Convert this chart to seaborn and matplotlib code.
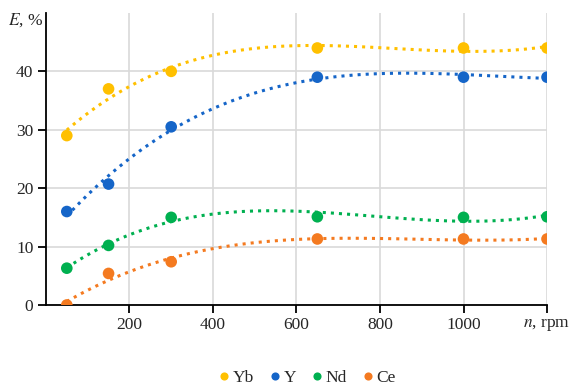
import numpy as np
import pandas as pd
import seaborn as sns
import matplotlib.pyplot as plt

# rotation speed, rpm
n_rpm = [50, 150, 300, 650, 1000, 1200]
# extraction E, %
e_yb = [29.0, 37.0, 40.0, 44.0, 44.0, 44.0]
e_y = [16.0, 20.7, 30.5, 39.0, 39.0, 39.0]
e_nd = [6.3, 10.2, 15.0, 15.1, 15.0, 15.1]
e_ce = [0.0, 5.4, 7.4, 11.3, 11.3, 11.3]

elements = ['Yb', 'Y', 'Nd', 'Ce']
colors = ['#FFC000', '#1565C8', '#00B050', '#F47A20']
x_ticks = [200, 400, 600, 800, 1000, 1200]
x_labels = ['200', '400', '600', '800', '1000', '$n$, rpm']
y_ticks = [0, 10, 20, 30, 40]

sns.set_theme(style='white')
plt.rcParams['font.family'] = ['Liberation Serif', 'DejaVu Serif']
plt.rcParams['mathtext.fontset'] = 'stix'
fs = 12.5

df = pd.DataFrame({
    'n': n_rpm * 4,
    'E': e_yb + e_y + e_nd + e_ce,
    'el': [el for el in elements for _ in n_rpm],
})

fig = plt.figure(figsize=(5.74, 3.92), dpi=100)
ax = fig.add_axes([0.080, 0.222, 0.873, 0.745])

# polynomial trend lines
for el, c in zip(elements, colors):
    sub = df[df.el == el]
    sns.regplot(data=sub, x='n', y='E', order=3, ci=None, scatter=False,
                ax=ax, color=c, line_kws=dict(ls=':', lw=2.2))

sns.scatterplot(data=df, x='n', y='E', hue='el', hue_order=elements,
                palette=colors, s=70, edgecolor='none', ax=ax, zorder=5)

ax.set_xlim(0, 1200)
ax.set_ylim(0, 50)
ax.set_xticks(x_ticks)
ax.set_xticklabels(x_labels)
ax.set_yticks(y_ticks)
ax.set_xlabel('')
ax.set_ylabel('')
ax.grid(True, color='#d9d9d9', lw=1.2)
ax.set_axisbelow(True)
for s in ['top', 'right']:
    ax.spines[s].set_visible(False)
for s in ['left', 'bottom']:
    ax.spines[s].set_color('black')
    ax.spines[s].set_linewidth(1.3)
ax.tick_params(axis='both', which='major', direction='out', length=6,
               width=1.3, color='black', labelsize=fs, pad=3,
               bottom=True, left=True)
ax.text(-0.005, 0.975, '$E$, %', transform=ax.transAxes, ha='right',
        va='center', fontsize=fs)

sns.move_legend(ax, 'lower center', bbox_to_anchor=(0.525, -0.025),
                bbox_transform=fig.transFigure, ncol=4, title=None,
                frameon=False, fontsize=fs, handletextpad=-0.5,
                columnspacing=0.2, markerscale=0.7)

fig.savefig('out.png', dpi=100)
